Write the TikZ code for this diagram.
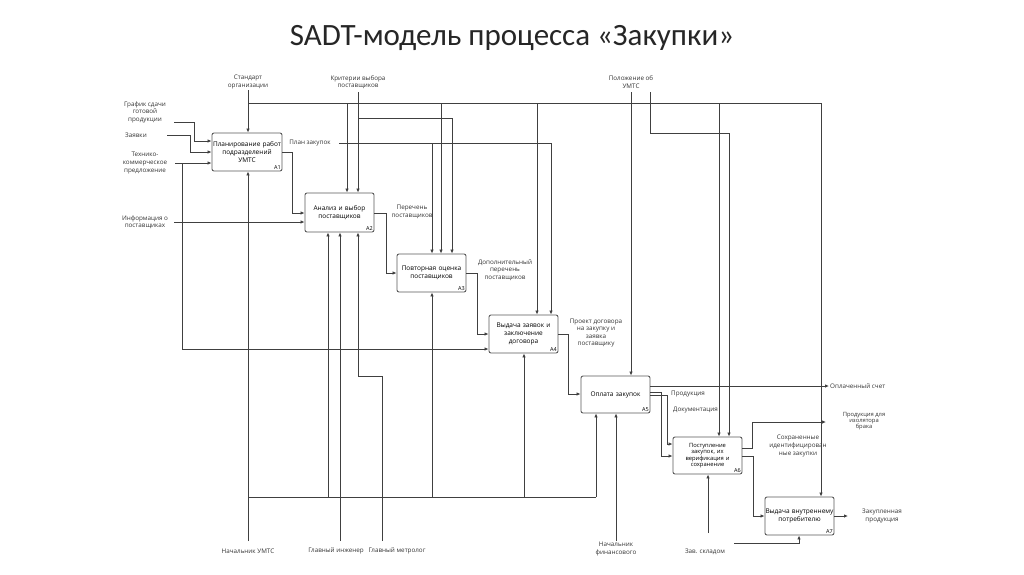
\documentclass[tikz,border=0pt]{standalone}
\usepackage{fontspec}
\setmainfont{Open Sans}
\newfontfamily\titlefont{Carlito}
\usetikzlibrary{arrows.meta}
\begin{document}
\begin{tikzpicture}[x=1pt,y=-1pt,
  ln/.style={draw=black!75,line width=0.8pt},
  arr/.style={ln,-{Latex[length=4pt,width=3.5pt]}},
  box/.style={draw=black!65,line width=0.9pt,rounded corners=2pt,inner sep=0pt,align=center,font=\fontsize{6.5}{7.6}\selectfont,text width=68pt},
  lbl/.style={font=\fontsize{6.3}{7.6}\selectfont,align=center,text=black!80,inner sep=1pt},
  num/.style={font=\fontsize{5.5}{6}\selectfont,anchor=south east,inner sep=1.5pt}]
\useasboundingbox (0,0) rectangle (1024,574);
\node[font=\titlefont\fontsize{31}{34}\selectfont,text=black!85] (title) at (512,38) {SADT-модель процесса «Закупки»};
% boxes
\node[box,minimum width=70pt,minimum height=38pt] (A1) at (247,152) {Планирование работ\\подразделений\\УМТС\\[1pt]};
\node[box,minimum width=69pt,minimum height=39pt] (A2) at (339.5,212.5) {Анализ и выбор\\поставщиков\\[1pt]};
\node[box,minimum width=69pt,minimum height=38pt] (A3) at (431.5,273) {Повторная оценка\\поставщиков\\[1pt]};
\node[box,minimum width=69pt,minimum height=38pt] (A4) at (523.5,334) {Выдача заявок и\\заключение\\договора};
\node[box,minimum width=69pt,minimum height=37pt] (A5) at (615.5,394.5) {Оплата закупок\\[2pt]};
\node[box,minimum width=69pt,minimum height=37pt,font=\fontsize{5.8}{6.3}\selectfont] (A6) at (707.5,455.5) {Поступление\\закупок, их\\верификация и\\сохранение\\[1pt]};
\node[box,minimum width=69pt,minimum height=38pt] (A7) at (799.5,516) {Выдача внутреннему\\потребителю\\[1pt]};
\foreach \b/\n in {A1/A1,A2/A2,A3/A3,A4/A4,A5/A5,A6/A6,A7/A7}{\node[num] (n\b) at (\b.south east) {\n};}
% labels
\node[lbl] (Lstd) at (248,82) {Стандарт\\организации};
\node[lbl] (Lkr) at (358,82) {Критерии выбора\\поставщиков};
\node[lbl] (Lpol) at (631,82) {Положение об\\УМТС};
\node[lbl] (Lgr) at (145,112) {График сдачи\\готовой\\продукции};
\node[lbl] (Lzv) at (136,135) {Заявки};
\node[lbl] (Ltk) at (145,163) {Технико-\\коммерческое\\предложение};
\node[lbl] (Linf) at (145,222) {Информация о\\поставщиках};
\node[lbl] (Lplan) at (310,143) {План закупок};
\node[lbl] (Lper) at (412,212) {Перечень\\поставщиков};
\node[lbl] (Ldop) at (505,270) {Дополнительный\\перечень\\поставщиков};
\node[lbl] (Lpro) at (596,333) {Проект договора\\на закупку и\\заявка\\поставщику};
\node[lbl,anchor=west] (Lopl) at (829,386) {Оплаченный счет};
\node[lbl,anchor=west] (Lprod) at (670,394) {Продукция};
\node[lbl,anchor=west] (Ldoc) at (672,410) {Документация};
\node[lbl,font=\fontsize{5.8}{6.3}\selectfont] (Lizl) at (864,421) {Продукция для\\изолятора\\брака};
\node[lbl] (Lsoh) at (798,446) {Сохраненные\\идентифицирован\\ные  закупки};
\node[lbl] (Lzak) at (882,516) {Закупленная\\продукция};
\node[lbl] (Lnach) at (248,551) {Начальник УМТС};
\node[lbl] (Ling) at (336,551) {Главный инженер};
\node[lbl] (Lmet) at (397,551) {Главный метролог};
\node[lbl] (Lfin) at (616,549) {Начальник\\финансового};
\node[lbl] (Lskl) at (705,552) {Зав. складом};
% coordinates
\coordinate (bar0) at (248,103); \coordinate (bar1) at (821,103);
\coordinate (k0) at (358,92);
\coordinate (p0) at (631,92); \coordinate (p1) at (650,92);
\coordinate (pl0) at (339,143);
\coordinate (g0) at (174,122); \coordinate (z0) at (167,135); \coordinate (t0) at (175,163);
\coordinate (i0) at (174,222);
\coordinate (m0) at (248,541); \coordinate (mb) at (248,497);
\coordinate (e0) at (340,541); \coordinate (gm0) at (382,541);
\coordinate (f0) at (616,541); \coordinate (s0) at (708,533); \coordinate (s1) at (734,543);
% controls
\draw[ln] (bar0) -- (bar1);
\draw[arr] (Lstd.south) -- (A1.north -| Lstd);
\draw[arr] (347,103) -- (A2.north -| 347,0);
\draw[arr] (441,103) -- (A3.north -| 441,0);
\draw[arr] (537,103) -- (A4.north -| 537,0);
\draw[arr] (719,103) -- (A6.north -| 719,0);
\draw[arr] (bar1) -- (A7.north -| bar1);
\draw[arr] (k0) -- (A2.north -| k0);
\draw[arr] (358,118) -- (452,118) -- (A3.north -| 452,0);
\draw[arr] (pl0) -- (551,143) -- (A4.north -| 551,0);
\draw[arr] (432,143) -- (A3.north -| 432,0);
\draw[arr] (p0) -- (A5.north -| p0);
\draw[arr] (p1) -- (650,133) -- (729,133) -- (A6.north -| 729,0);
% inputs A1
\draw[arr] (g0) -- (194,122) -- (194,141) -- (A1.west |- 0,141);
\draw[arr] (z0) -- (190,135) -- (190,152) -- (A1.west |- 0,152);
\draw[arr] (t0) -- (A1.west |- t0);
\draw[arr] (182,163) -- (182,349) -- (A4.west |- 0,349);
\draw[arr] (i0) -- (A2.west |- i0);
% flows
\draw[arr] (A1.east) -- (292,152) -- (292,213) -- (A2.west |- 0,213);
\draw[arr] (A2.east |- 0,213) -- (386,213) -- (386,273) -- (A3.west |- 0,273);
\draw[arr] (A3.east |- 0,273) -- (477,273) -- (477,334) -- (A4.west |- 0,334);
\draw[arr] (A4.east |- 0,334) -- (568,334) -- (568,394) -- (A5.west |- 0,394);
\draw[arr] (A5.east |- 0,386) -- (Lopl.west);
\draw[arr] (A5.east |- 0,392) -- (661,392) -- (661,456) -- (A6.west |- 0,456);
\draw[arr] (A5.east |- 0,395) -- (667,395) -- (667,444) -- (A6.west |- 0,444);
\draw[arr] (A6.east |- 0,448) -- (752,448) -- (752,422) -- (826,422);
\draw[arr] (A6.east |- 0,456) -- (753,456) -- (753,516) -- (A7.west |- 0,516);
\draw[arr] (A7.east) -- (848,516);
% mechanisms
\draw[arr] (m0) -- (A1.south -| m0);
\draw[ln] (mb) -- (596,497);
\draw[arr] (596,497) -- (A5.south -| 596,0);
\draw[arr] (328,497) -- (A2.south -| 328,0);
\draw[arr] (432,497) -- (A3.south -| 432,0);
\draw[arr] (524,497) -- (A4.south -| 524,0);
\draw[arr] (e0) -- (A2.south -| e0);
\draw[arr] (gm0) -- (382,376) -- (358,376) -- (A2.south -| 358,0);
\draw[arr] (f0) -- (A5.south -| f0);
\draw[arr] (s0) -- (A6.south -| s0);
\draw[arr] (s1) -- (799,543) -- (A7.south -| 799,0);
\end{tikzpicture}
\end{document}
